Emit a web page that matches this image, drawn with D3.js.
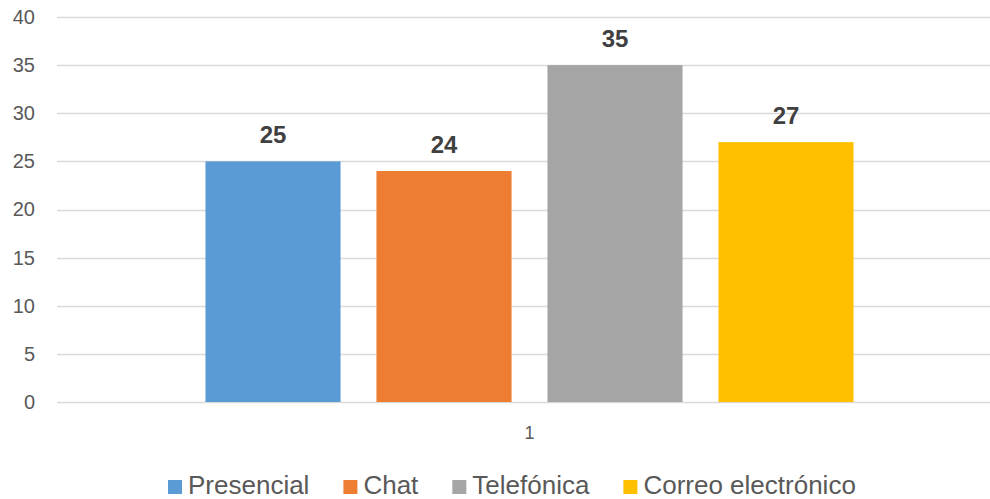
<!DOCTYPE html>
<html>
<head>
<meta charset="utf-8">
<script src="https://cdn.jsdelivr.net/npm/d3@7"></script>
<style>
  body { margin: 0; background: #fff; }
  text { font-family: "Liberation Sans", Arial, sans-serif; }
</style>
</head>
<body>
<div class="chart"></div>
<script>
var categories = ["1"];
var seriesNames = ["Presencial", "Chat", "Telefónica", "Correo electrónico"];
var seriesValues = [25, 24, 35, 27];
var seriesColors = ["#5B9BD5", "#ED7D31", "#A5A5A5", "#FFC000"];
var yTicks = [0, 5, 10, 15, 20, 25, 30, 35, 40];

var width = 990, height = 499;
var plot = { left: 57, right: 1002, top: 17, bottom: 402 };

var svg = d3.select(".chart")
    .append("svg")
    .attr("width", width)
    .attr("height", height);

var y = d3.scaleLinear()
    .domain([0, 40])
    .range([plot.bottom, plot.top]);

var x0 = d3.scaleBand()
    .domain(categories)
    .range([plot.left, plot.right])
    .paddingInner(0)
    .paddingOuter(0.1908);

var x1 = d3.scaleBand()
    .domain(seriesNames)
    .range([0, x0.bandwidth()])
    .paddingInner(0.21)
    .paddingOuter(0.105);

var color = d3.scaleOrdinal(seriesNames, seriesColors);

// gridlines
svg.append("g")
    .selectAll("line")
    .data(yTicks)
    .enter()
    .append("line")
    .attr("x1", plot.left)
    .attr("x2", width)
    .attr("y1", function(d) { return Math.round(y(d)) + 0.5; })
    .attr("y2", function(d) { return Math.round(y(d)) + 0.5; })
    .style("stroke", "#D9D9D9")
    .style("stroke-width", 1.3);

// y axis labels
var yAxis = svg.append("g")
    .attr("transform", "translate(" + (plot.left - 22) + ",0)")
    .call(d3.axisLeft(y).tickValues(yTicks).tickSize(0).tickPadding(0));
yAxis.select(".domain").remove();
yAxis.selectAll("text")
    .style("font-family", "'Liberation Sans', Arial, sans-serif")
    .style("font-size", "20px")
    .style("fill", "#595959");

// x axis label
var xAxis = svg.append("g")
    .attr("transform", "translate(0," + plot.bottom + ")")
    .call(d3.axisBottom(x0).tickSize(0).tickPadding(24));
xAxis.select(".domain").remove();
xAxis.selectAll("text")
    .style("font-family", "'Liberation Sans', Arial, sans-serif")
    .style("font-size", "18px")
    .style("fill", "#595959");

var data = seriesNames.map(function(name, i) {
    return { name: name, value: seriesValues[i] };
});

var group = svg.append("g")
    .attr("transform", "translate(" + x0("1") + ",0)");

group.selectAll("rect")
    .data(data)
    .enter()
    .append("rect")
    .attr("x", function(d) { return x1(d.name); })
    .attr("y", function(d) { return y(d.value); })
    .attr("width", x1.bandwidth())
    .attr("height", function(d) { return y(0) - y(d.value); })
    .style("fill", function(d) { return color(d.name); });

group.selectAll(".label")
    .data(data)
    .enter()
    .append("text")
    .attr("class", "label")
    .attr("text-anchor", "middle")
    .attr("x", function(d) { return x1(d.name) + x1.bandwidth() / 2; })
    .attr("y", function(d) { return y(d.value) - 18; })
    .style("font-size", "24px")
    .style("font-weight", "bold")
    .style("fill", "#404040")
    .text(function(d) { return d.value; });

// legend
var legend = svg.append("g");
var items = legend.selectAll("g")
    .data(seriesNames)
    .enter()
    .append("g");
items.append("rect")
    .attr("width", 14)
    .attr("height", 14)
    .attr("y", 480)
    .style("fill", function(d) { return color(d); });
items.append("text")
    .attr("x", 20)
    .attr("y", 494)
    .style("font-size", "26px")
    .style("fill", "#595959")
    .text(function(d) { return d; });

var offset = 0;
items.each(function() {
    var g = d3.select(this);
    var w = 20 + g.select("text").node().getComputedTextLength();
    g.attr("transform", "translate(" + offset + ",0)");
    offset += w + 34;
});
legend.attr("transform", "translate(168,0)");
</script>
</body>
</html>
